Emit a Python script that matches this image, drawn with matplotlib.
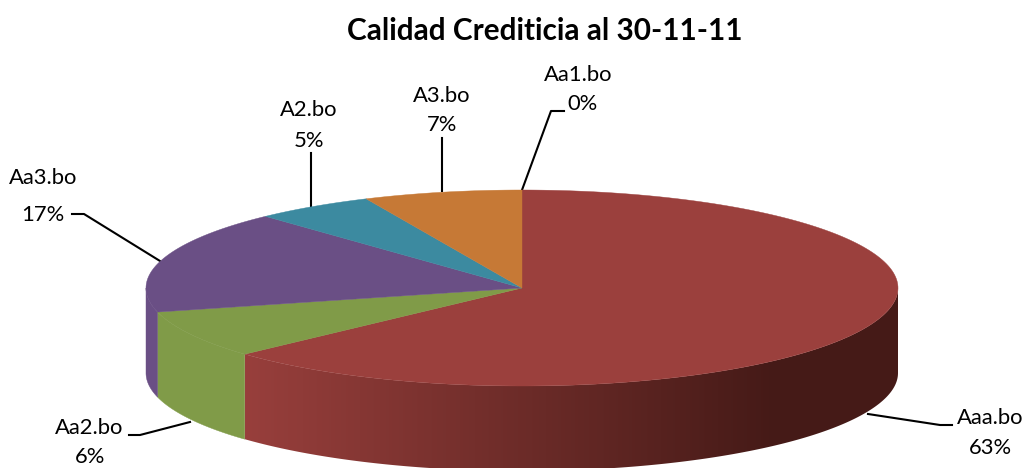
import matplotlib
matplotlib.use('Agg')
import matplotlib.pyplot as plt
import numpy as np
from matplotlib.patches import Polygon

# datos (porciones, en el sentido del reloj desde arriba)
etiquetas = ['Aaa.bo', 'Aa2.bo', 'Aa3.bo', 'A2.bo', 'A3.bo', 'Aa1.bo']
valores = [63.2, 7.85, 17.0, 5.15, 6.8, 0.0]
porcentajes = ['63%', '6%', '17%', '5%', '7%', '0%']
colores = ['#9b403d', '#809b48', '#6a4f85', '#3c8aa0', '#c67936', '#4198af']

# geometria del pastel en pixeles
cx, cy = 522, 288
rx, ry = 376, 98
alto = 85

# posicion de textos y lineas guia
pos_nombre = [(990, 418), (89, 428), (43, 178), (309, 110), (442, 96), (578, 75)]
pos_pct = [(990, 448), (90, 457), (43, 215), (309, 141), (442, 125), (582, 104)]
guias = [
    [(868, 414), (940, 425), (952, 425)],
    [(190, 422), (140, 435), (129, 435)],
    [(160, 261), (84, 214), (72, 214)],
    [(311, 207), (311, 153)],
    [(442, 191), (442, 138)],
    [(522, 190), (551, 111), (564, 111)],
]

plt.rcParams['font.family'] = ['Lato', 'DejaVu Sans']


def borde(theta):
    return cx + rx * np.sin(theta), cy - ry * np.cos(theta)


fig = plt.figure(figsize=(10.26, 4.68), dpi=100)
ax = fig.add_axes([0, 0, 1, 1])
ax.axis('off')

limites = np.radians(np.concatenate([[0], np.cumsum(valores)]) * 3.6)

# lineas guia debajo del pastel
for g in guias:
    xs, ys = zip(*g)
    ax.plot(xs, ys, color='black', linewidth=1.5, zorder=1, solid_joinstyle='round')

# costado visible (solo la mitad frontal)
for i in range(len(valores)):
    ini = max(limites[i], np.pi / 2)
    fin = min(limites[i + 1], 3 * np.pi / 2)
    if fin <= ini:
        continue
    xs, ys = borde(np.linspace(ini, fin, 200))
    puntos = np.c_[np.r_[xs, xs[::-1]], np.r_[ys, ys[::-1] + alto]]
    if i == 0:
        # degradado horizontal de la porcion grande
        t = np.clip((np.arange(1026) - 245) / 530, 0, 1)[None, :, None]
        a = np.array(matplotlib.colors.to_rgb('#983f3c'))
        b = np.array(matplotlib.colors.to_rgb('#451a17'))
        img = ax.imshow(a + (b - a) * t, extent=(0, 1026, 468, 0), aspect='auto', zorder=2)
        img.set_clip_path(Polygon(puntos, transform=ax.transData))
    else:
        ax.fill(puntos[:, 0], puntos[:, 1], color=colores[i], linewidth=0.3, zorder=2)

# tapa superior
for i in range(len(valores)):
    if valores[i] <= 0:
        continue
    angulos = np.linspace(limites[i], limites[i + 1], 200)
    xs, ys = borde(angulos)
    ax.fill(np.r_[cx, xs], np.r_[cy, ys], color=colores[i], linewidth=0.3, zorder=3)

ax.set_xlim(0, 1026)
ax.set_ylim(468, 0)

ax.text(545, 31, 'Calidad Crediticia al 30-11-11', fontsize=21.4, fontweight='bold',
        ha='center', va='center', color='black')
for i in range(len(etiquetas)):
    ax.text(pos_nombre[i][0], pos_nombre[i][1], etiquetas[i], fontsize=15.8, ha='center', va='center', color='black')
    ax.text(pos_pct[i][0], pos_pct[i][1], porcentajes[i], fontsize=15.8, ha='center', va='center', color='black')

fig.savefig('out.png', dpi=100, facecolor='white')
plt.close()
